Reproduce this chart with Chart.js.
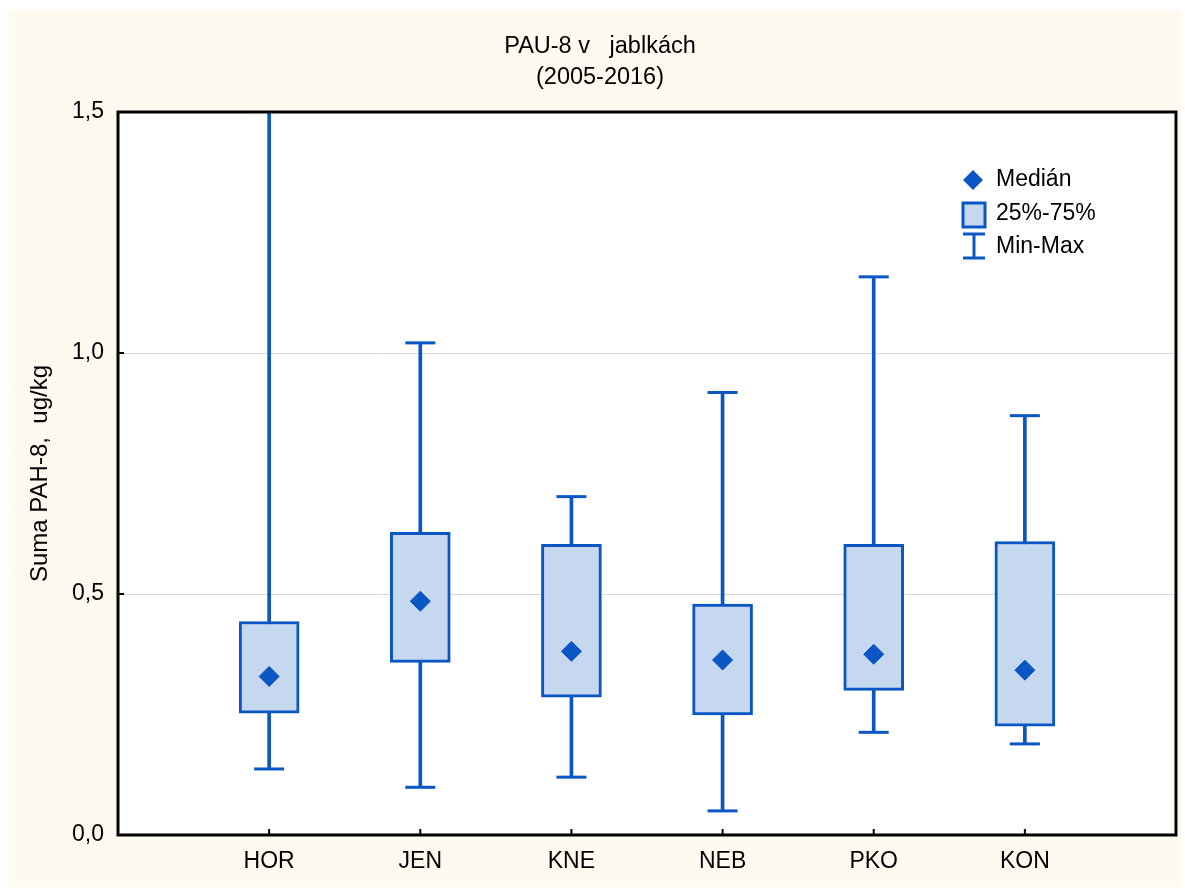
<!DOCTYPE html>
<html>
<head>
<meta charset="utf-8">
<script src="https://cdn.jsdelivr.net/npm/chart.js@4/dist/chart.umd.min.js"></script>
<style>
  html, body { margin: 0; padding: 0; background: #fff; }
  #wrap { width: 1185px; height: 888px; }
</style>
</head>
<body>
<div id="wrap"><canvas id="c" width="1185" height="888"></canvas></div>
<script>
// hodnoty
const categories = ['HOR', 'JEN', 'KNE', 'NEB', 'PKO', 'KON'];
const minVals    = [0.137, 0.099, 0.120, 0.050, 0.213, 0.189];
const q1Vals     = [0.253, 0.358, 0.286, 0.249, 0.300, 0.226];
const medianVals = [0.329, 0.485, 0.381, 0.363, 0.375, 0.342];
const q3Vals     = [0.443, 0.628, 0.603, 0.479, 0.603, 0.609];
const maxVals    = [1.60, 1.021, 0.702, 0.918, 1.158, 0.870];
const yTicks     = [0, 0.5, 1.0, 1.5];

const blue = '#0a56c4';
const boxFill = '#c6d8ef';
const FONT = '"Liberation Sans", Arial, sans-serif';

// prázdné krajní sloty, aby kategorie ležely na 1..6 z rozsahu 0..7
const xLabels = [''].concat(categories, ['']);

const whiskers = categories.map((c, i) => ({ x: c, y: [minVals[i], maxVals[i]] }));
const boxes = categories.map((c, i) => ({ x: c, y: [q1Vals[i], q3Vals[i]] }));
const medians = categories.map((c, i) => ({ x: c, y: medianVals[i] }));
const caps = [];
categories.forEach((c, i) => {
  caps.push({ x: c, y: minVals[i] });
  caps.push({ x: c, y: maxVals[i] });
});

const decor = {
  id: 'decor',
  beforeDraw(chart) {
    const ctx = chart.ctx;
    ctx.save();
    ctx.fillStyle = '#fffaf0';
    ctx.fillRect(9, 10, 1172, 877);
    const a = chart.chartArea;
    ctx.fillStyle = '#fff';
    ctx.fillRect(a.left, a.top, a.right - a.left, a.bottom - a.top);
    ctx.restore();
  },
  afterDraw(chart) {
    const ctx = chart.ctx;
    const a = chart.chartArea;
    const xs = chart.scales.x, ys = chart.scales.y;
    ctx.save();
    // rám
    ctx.strokeStyle = '#000';
    ctx.lineWidth = 3;
    ctx.strokeRect(a.left, a.top, a.right - a.left, a.bottom - a.top);
    // vnitřní značky os
    ctx.lineWidth = 2;
    ctx.beginPath();
    categories.forEach(c => {
      const px = xs.getPixelForValue(xLabels.indexOf(c));
      ctx.moveTo(px, a.bottom);
      ctx.lineTo(px, a.bottom - 6);
    });
    yTicks.forEach(v => {
      const py = ys.getPixelForValue(v);
      ctx.moveTo(a.left, py);
      ctx.lineTo(a.left + 6, py);
    });
    ctx.stroke();

    // legenda
    const lx = a.right - 203, ly = a.top + 68;
    ctx.fillStyle = blue;
    ctx.beginPath();
    ctx.moveTo(lx, ly - 10); ctx.lineTo(lx + 10, ly); ctx.lineTo(lx, ly + 10); ctx.lineTo(lx - 10, ly);
    ctx.closePath();
    ctx.fill();

    ctx.fillStyle = boxFill;
    ctx.fillRect(lx - 10, ly + 23, 22, 24);
    ctx.strokeStyle = blue;
    ctx.lineWidth = 3;
    ctx.strokeRect(lx - 10, ly + 23, 22, 24);

    ctx.beginPath();
    ctx.moveTo(lx + 1, ly + 54); ctx.lineTo(lx + 1, ly + 78);
    ctx.moveTo(lx - 10, ly + 54); ctx.lineTo(lx + 12, ly + 54);
    ctx.moveTo(lx - 10, ly + 78); ctx.lineTo(lx + 12, ly + 78);
    ctx.stroke();

    ctx.fillStyle = '#000';
    ctx.font = '23px ' + FONT;
    ctx.textBaseline = 'middle';
    ctx.textAlign = 'left';
    ctx.fillText('Medián', lx + 23, ly);
    ctx.fillText('25%-75%', lx + 23, ly + 34);
    ctx.fillText('Min-Max', lx + 23, ly + 67);
    ctx.restore();
  }
};

Chart.defaults.font.family = FONT;
Chart.defaults.color = '#000';

new Chart(document.getElementById('c'), {
  data: {
    labels: xLabels,
    datasets: [
      {
        type: 'bar', label: 'Min-Max', data: whiskers, order: 4,
        grouped: false, barThickness: 3, backgroundColor: blue, borderWidth: 0, clip: 0
      },
      {
        type: 'line', label: 'caps', data: caps, order: 3, showLine: false,
        pointStyle: 'line', pointRadius: 15, pointBorderWidth: 3,
        pointBorderColor: blue, clip: 0
      },
      {
        type: 'bar', label: '25%-75%', data: boxes, order: 2,
        grouped: false, barThickness: 60, backgroundColor: boxFill,
        borderColor: blue, borderWidth: 3, borderSkipped: false
      },
      {
        type: 'line', label: 'Medián', data: medians, order: 1, showLine: false,
        pointStyle: 'rectRot', pointRadius: 10, pointBackgroundColor: blue,
        pointBorderColor: blue, pointBorderWidth: 1
      }
    ]
  },
  options: {
    responsive: false,
    animation: false,
    layout: { autoPadding: false, padding: { left: 24, right: 9, top: 10, bottom: 1 } },
    plugins: {
      legend: { display: false },
      tooltip: { enabled: false },
      title: {
        display: true,
        text: ['PAU-8 v   jablkách', '(2005-2016)'],
        font: { size: 23.5, weight: 'normal', lineHeight: 31 / 23.5 },
        padding: { top: 21, bottom: 19 }
      }
    },
    scales: {
      x: {
        type: 'category',
        offset: false,
        grid: { display: false, drawTicks: false },
        border: { display: false },
        ticks: { font: { size: 23 }, padding: 13, maxRotation: 0, autoSkip: false },
        afterFit(scale) { scale.height = 52; scale.paddingLeft = 0; scale.paddingRight = 0; }
      },
      y: {
        min: 0, max: 1.5,
        border: { display: false },
        grid: {
          drawTicks: false,
          color: ctx => (ctx.tick && (ctx.tick.value === 0 || ctx.tick.value === 1.5)) ? 'rgba(0,0,0,0)' : '#d8d8d8'
        },
        ticks: {
          stepSize: 0.5, padding: 14, font: { size: 23 },
          callback: v => v.toFixed(1).replace('.', ',')
        },
        title: {
          display: true, text: 'Suma PAH-8,  ug/kg',
          font: { size: 24 }, padding: { top: 2, bottom: 0 }
        },
        afterFit(scale) { scale.width = 94; }
      }
    }
  },
  plugins: [decor]
});
</script>
</body>
</html>
